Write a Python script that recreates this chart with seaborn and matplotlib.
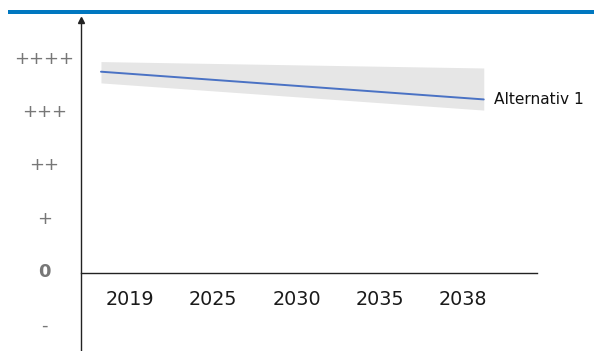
import matplotlib
matplotlib.use("Agg")
import matplotlib.pyplot as plt
from matplotlib.patches import Rectangle
import seaborn as sns
import pandas as pd

# tick labels
year_labels = ["2019", "2025", "2030", "2035", "2038"]
level_labels = ["-", "0", "+", "++", "+++", "++++"]
level_values = [-1, 0, 1, 2, 3, 4]

# scenario line (x in tick-index units) with its uncertainty band
trend_x = [-0.35, 4.25]
trend_mid = [3.72, 3.20]
band_low = [3.51, 3.00]
band_high = [3.91, 3.79]
series_name = "Alternativ 1"

sns.set_theme(style="white")
plt.rcParams["font.family"] = ["DejaVu Sans"]

fig = plt.figure(figsize=(5.94, 3.51), dpi=100)
ax = fig.add_axes([81 / 594, 0, (537 - 81) / 594, 1 - 20 / 351])

df = pd.DataFrame({"x": trend_x, "y": trend_mid})
ax.fill_between(trend_x, band_low, band_high, color="#e6e6e6", lw=0)
sns.lineplot(data=df, x="x", y="y", ax=ax, color="#4a72c4", lw=1.4)

ax.text(trend_x[-1] + 0.12, trend_mid[-1], series_name, va="center", ha="left",
        fontsize=11.1, color="#111111", clip_on=False)

ax.set_xlim(-0.59, 4.89)
ax.set_ylim(-1.52, 4.69)

ax.set_xticks(range(len(year_labels)))
ax.set_xticklabels(year_labels)
ax.set_yticks(level_values)
ax.set_yticklabels(level_labels)
ax.tick_params(axis="x", length=0, pad=12.5, labelsize=13.8, labelcolor="#1a1a1a")
ax.tick_params(axis="y", length=0, pad=26.5, labelsize=13, labelcolor="#777777")
for lab in ax.get_yticklabels():
    lab.set_horizontalalignment("center")
    if lab.get_text() == "0":
        lab.set_fontweight("bold")

ax.set_xlabel("")
ax.set_ylabel("")
ax.spines["top"].set_visible(False)
ax.spines["right"].set_visible(False)
ax.spines["bottom"].set_position(("data", -0.05))
ax.spines["bottom"].set_color("#222222")
ax.spines["left"].set_color("#222222")
ax.spines["bottom"].set_linewidth(1)
ax.spines["left"].set_linewidth(1)
ax.patch.set_alpha(0)

# arrow head on the y axis
ax.plot([0], [1], marker="^", color="#222222", markersize=4,
        transform=ax.transAxes, clip_on=False)

# blue header bar
fig.add_artist(Rectangle((8 / 594, 1 - 14 / 351), 1 - 8 / 594, 4 / 351,
                         transform=fig.transFigure, color="#0077c0", lw=0))

fig.savefig("out.png", dpi=100)
